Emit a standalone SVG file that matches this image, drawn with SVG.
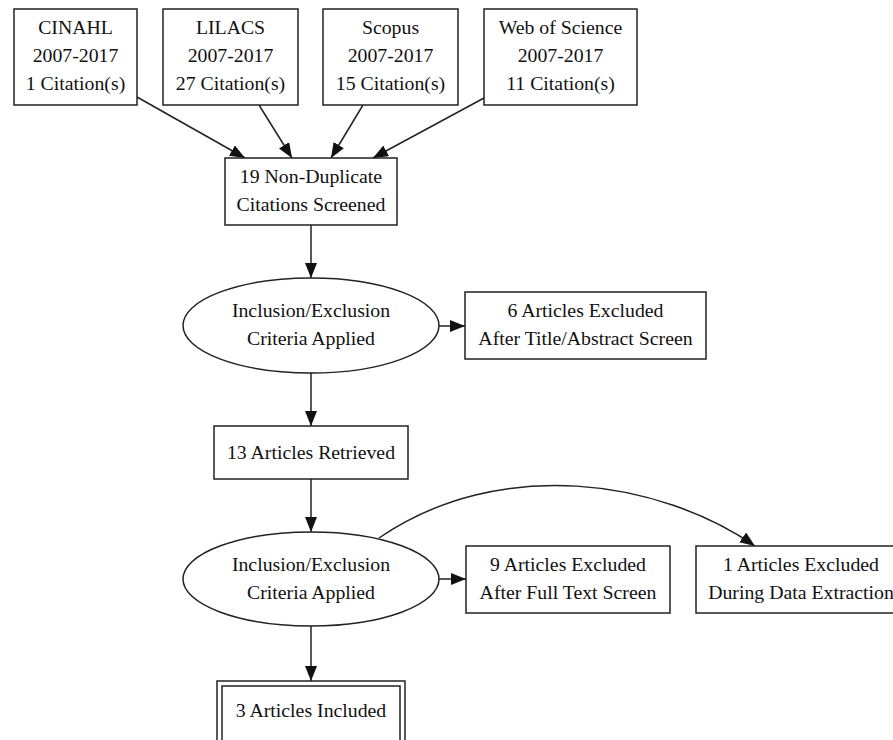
<svg xmlns="http://www.w3.org/2000/svg" width="893" height="740" viewBox="0 0 893 740">
  <style>
    .n { fill: #ffffff; stroke: #222222; stroke-width: 1.5; }
    .t { font-family: "Liberation Serif", "Times New Roman", serif; font-size: 19.8px; fill: #111111; text-anchor: middle; }
    .e { fill: none; stroke: #222222; stroke-width: 1.5; }
  </style>
  <defs>
    <marker id="ah" markerUnits="userSpaceOnUse" markerWidth="16" markerHeight="13" refX="15" refY="6" orient="auto">
      <path d="M0,0 L15,6 L0,12 z" fill="#111111"/>
    </marker>
  </defs>
  <rect width="893" height="740" fill="#ffffff"/>

  <g id="edges">
    <path class="e" d="M137,97 L245,158" marker-end="url(#ah)"/>
    <path class="e" d="M259,105 L292,158" marker-end="url(#ah)"/>
    <path class="e" d="M363,105 L331,158" marker-end="url(#ah)"/>
    <path class="e" d="M484,98 L373,158" marker-end="url(#ah)"/>
    <path class="e" d="M311,225 L311,278" marker-end="url(#ah)"/>
    <path class="e" d="M439,326 L465,326" marker-end="url(#ah)"/>
    <path class="e" d="M311,373 L311,426" marker-end="url(#ah)"/>
    <path class="e" d="M311,479 L311,532" marker-end="url(#ah)"/>
    <path class="e" d="M439,579 L466,579" marker-end="url(#ah)"/>
    <path class="e" d="M379,538 C500,455 660,480 755,546" marker-end="url(#ah)"/>
    <path class="e" d="M311,626 L311,681" marker-end="url(#ah)"/>
  </g>

  <g id="cinahl">
    <rect class="n" x="14" y="9" width="123" height="96"/>
    <text class="t" x="75.5" y="34">CINAHL</text>
    <text class="t" x="75.5" y="62">2007-2017</text>
    <text class="t" x="75.5" y="90">1 Citation(s)</text>
  </g>
  <g id="lilacs">
    <rect class="n" x="163" y="9" width="135" height="96"/>
    <text class="t" x="230.5" y="34">LILACS</text>
    <text class="t" x="230.5" y="62">2007-2017</text>
    <text class="t" x="230.5" y="90">27 Citation(s)</text>
  </g>
  <g id="scopus">
    <rect class="n" x="323" y="9" width="135" height="96"/>
    <text class="t" x="390.5" y="34">Scopus</text>
    <text class="t" x="390.5" y="62">2007-2017</text>
    <text class="t" x="390.5" y="90">15 Citation(s)</text>
  </g>
  <g id="wos">
    <rect class="n" x="484" y="9" width="153" height="96"/>
    <text class="t" x="560.5" y="34">Web of Science</text>
    <text class="t" x="560.5" y="62">2007-2017</text>
    <text class="t" x="560.5" y="90">11 Citation(s)</text>
  </g>
  <g id="screened">
    <rect class="n" x="225" y="158" width="172" height="67"/>
    <text class="t" x="311" y="183">19 Non-Duplicate</text>
    <text class="t" x="311" y="211">Citations Screened</text>
  </g>
  <g id="criteria1">
    <ellipse class="n" cx="311" cy="325.5" rx="128" ry="47.5"/>
    <text class="t" x="311" y="317">Inclusion/Exclusion</text>
    <text class="t" x="311" y="345">Criteria Applied</text>
  </g>
  <g id="excluded6">
    <rect class="n" x="465" y="292" width="241" height="67"/>
    <text class="t" x="585.5" y="317">6 Articles Excluded</text>
    <text class="t" x="585.5" y="345">After Title/Abstract Screen</text>
  </g>
  <g id="retrieved">
    <rect class="n" x="214" y="426" width="194" height="53"/>
    <text class="t" x="311" y="459">13 Articles Retrieved</text>
  </g>
  <g id="criteria2">
    <ellipse class="n" cx="311" cy="579" rx="128" ry="47"/>
    <text class="t" x="311" y="571">Inclusion/Exclusion</text>
    <text class="t" x="311" y="599">Criteria Applied</text>
  </g>
  <g id="excluded9">
    <rect class="n" x="466" y="546" width="204" height="67"/>
    <text class="t" x="568" y="571">9 Articles Excluded</text>
    <text class="t" x="568" y="599">After Full Text Screen</text>
  </g>
  <g id="excluded1">
    <rect class="n" x="696" y="546" width="210" height="67"/>
    <text class="t" x="801" y="571">1 Articles Excluded</text>
    <text class="t" x="801" y="599">During Data Extraction</text>
  </g>
  <g id="included">
    <rect class="n" x="217" y="681" width="188" height="66"/>
    <rect class="n" x="222" y="686" width="178" height="56"/>
    <text class="t" x="311" y="717">3 Articles Included</text>
  </g>
</svg>
